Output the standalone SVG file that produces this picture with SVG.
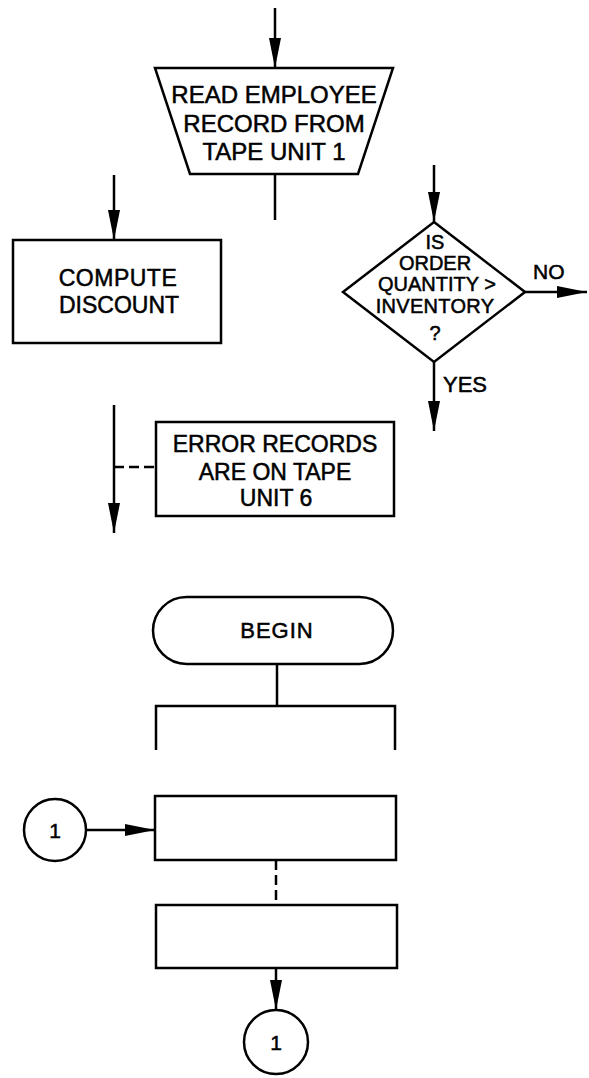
<svg xmlns="http://www.w3.org/2000/svg" width="589" height="1078" viewBox="0 0 589 1078">
<style>
.s{fill:#fff;stroke:#000;stroke-width:2.5}
.c{fill:none;stroke:#000;stroke-width:2.5}
.d{stroke-dasharray:10 5}
text{font-family:"Liberation Sans",Arial,sans-serif;fill:#000;stroke:#000;stroke-width:0.5;text-anchor:middle}
.t24{font-size:24px}
.t23{font-size:23px}
.t21{font-size:21px}
.t20{font-size:20px}
.l{text-anchor:start}
</style>
<defs>
<marker id="ah" markerUnits="userSpaceOnUse" markerWidth="30" markerHeight="12" refX="30" refY="6" orient="auto">
<path d="M0,0 L30,6 L0,12 z" fill="#000"/>
</marker>
</defs>
<rect width="589" height="1078" fill="#fff"/>
<g id="connectors">
<line class="c" x1="275" y1="8" x2="275" y2="68" marker-end="url(#ah)"/>
<line class="c" x1="275" y1="174" x2="275" y2="220"/>
<line class="c" x1="114" y1="175" x2="114" y2="240" marker-end="url(#ah)"/>
<line class="c" x1="434" y1="165" x2="434" y2="222" marker-end="url(#ah)"/>
<line class="c" x1="525" y1="292" x2="587" y2="292" marker-end="url(#ah)"/>
<line class="c" x1="434" y1="362" x2="434" y2="431" marker-end="url(#ah)"/>
<line class="c" x1="114" y1="405" x2="114" y2="533" marker-end="url(#ah)"/>
<line class="c d" x1="114" y1="467" x2="156" y2="467"/>
<line class="c" x1="277" y1="664" x2="277" y2="706"/>
<line class="c" x1="86" y1="830" x2="155" y2="830" marker-end="url(#ah)"/>
<line class="c d" x1="276" y1="860" x2="276" y2="905"/>
<line class="c" x1="276" y1="968" x2="276" y2="1010" marker-end="url(#ah)"/>
<text class="l t21" x="533" y="279">NO</text>
<text class="l" x="443" y="392" style="font-size:22px">YES</text>
</g>
<g id="read-employee">
<polygon class="s" points="155,68 393,68 358,174 190,174"/>
<text class="t24"><tspan x="274" y="103">READ EMPLOYEE</tspan><tspan x="274" y="132">RECORD FROM</tspan><tspan x="274" y="160">TAPE UNIT 1</tspan></text>
</g>
<g id="compute-discount">
<rect class="s" x="13" y="240" width="208" height="103"/>
<text class="t23"><tspan x="118" y="286" style="letter-spacing:0.5px">COMPUTE</tspan><tspan x="119" y="313">DISCOUNT</tspan></text>
</g>
<g id="decision">
<polygon class="s" points="434,222 525,292 434,362 343,292"/>
<text class="t20"><tspan x="435" y="249">IS</tspan><tspan x="435" y="270">ORDER</tspan><tspan x="437" y="291">QUANTITY &gt;</tspan><tspan x="435" y="313" style="letter-spacing:0.3px">INVENTORY</tspan><tspan x="435" y="340">?</tspan></text>
</g>
<g id="error-note">
<rect class="s" x="156" y="422" width="238" height="94"/>
<text class="t23"><tspan x="275" y="452">ERROR RECORDS</tspan><tspan x="275" y="480">ARE ON TAPE</tspan><tspan x="276" y="506">UNIT 6</tspan></text>
</g>
<g id="begin">
<rect class="s" x="153" y="597" width="240" height="67" rx="33.5" ry="33.5"/>
<text x="277" y="638" style="font-size:22px;letter-spacing:1px">BEGIN</text>
</g>
<g id="bracket">
<path class="c" d="M156,750 V706 H395 V750"/>
</g>
<g id="connector-in">
<circle class="s" cx="55" cy="830" r="31"/>
<text class="t21" x="55" y="838">1</text>
</g>
<g id="process-1">
<rect class="s" x="155" y="796" width="241" height="64"/>
</g>
<g id="process-2">
<rect class="s" x="156" y="905" width="241" height="63"/>
</g>
<g id="connector-out">
<circle class="s" cx="276" cy="1042" r="32"/>
<text class="t21" x="276" y="1050">1</text>
</g>
</svg>
